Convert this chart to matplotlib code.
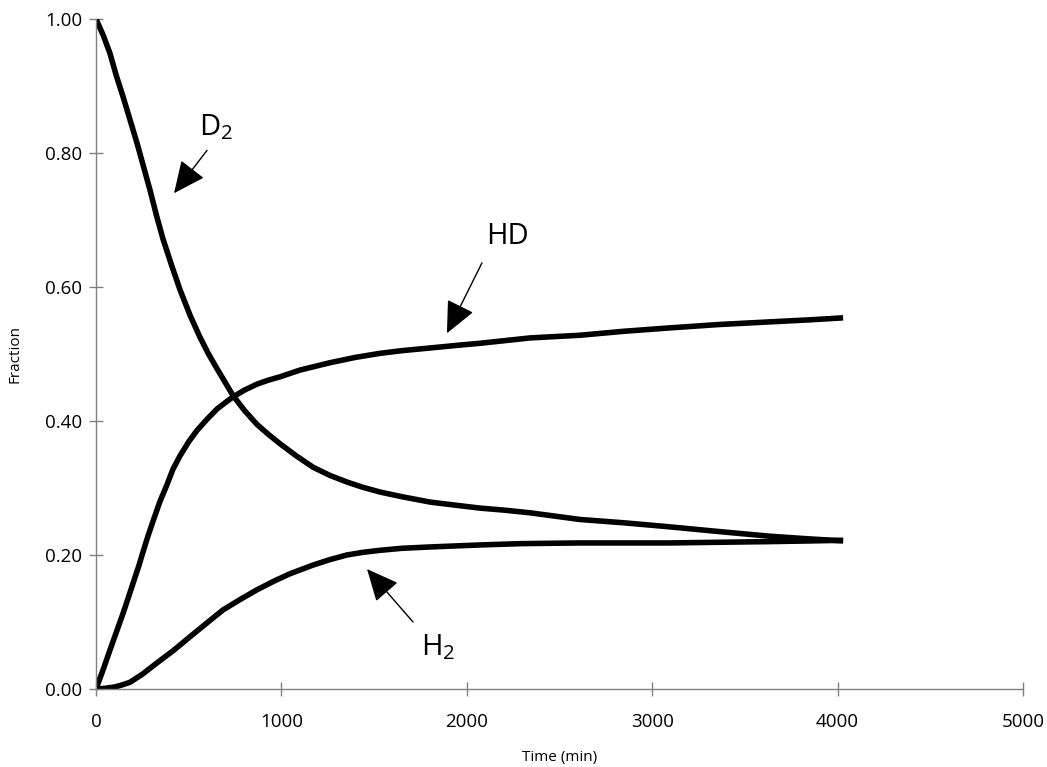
import matplotlib
matplotlib.use("Agg")
import matplotlib.pyplot as plt

# Data
d2_t = [0, 40, 75, 110, 146, 183, 221, 256, 291, 326, 361, 407, 453, 507, 561, 607, 653,
        739, 800, 868, 930, 993, 1080, 1171, 1260, 1353, 1440, 1532, 1650, 1802, 1950,
        2071, 2200, 2341, 2611, 2850, 3096, 3360, 3636, 3850, 4030]
d2_f = [1.00, 0.975, 0.949, 0.915, 0.884, 0.850, 0.815, 0.780, 0.745, 0.707, 0.672,
        0.633, 0.596, 0.558, 0.525, 0.500, 0.478, 0.438, 0.416, 0.395, 0.380, 0.366,
        0.348, 0.331, 0.319, 0.309, 0.301, 0.294, 0.287, 0.279, 0.274, 0.270, 0.267,
        0.263, 0.253, 0.248, 0.242, 0.235, 0.228, 0.224, 0.221]

hd_t = [0, 40, 75, 110, 146, 175, 200, 230, 254, 280, 307, 345, 383, 415, 453, 500, 545,
        600, 653, 700, 739, 800, 868, 930, 993, 1100, 1262, 1400, 1532, 1650, 1802, 1950,
        2071, 2341, 2611, 2850, 3096, 3360, 3636, 3850, 4030]
hd_f = [0.0, 0.030, 0.058, 0.085, 0.113, 0.137, 0.158, 0.183, 0.205, 0.228, 0.250, 0.280,
        0.305, 0.328, 0.348, 0.369, 0.386, 0.403, 0.418, 0.428, 0.436, 0.446, 0.455, 0.461,
        0.466, 0.476, 0.487, 0.495, 0.501, 0.505, 0.509, 0.513, 0.516, 0.524, 0.528, 0.534,
        0.539, 0.544, 0.548, 0.551, 0.554]

h2_t = [0, 50, 100, 140, 183, 250, 329, 420, 507, 600, 685, 780, 868, 960, 1046, 1171,
        1260, 1353, 1440, 1532, 1650, 1802, 2071, 2300, 2611, 3096, 3360, 3636, 3850, 4030]
h2_f = [0.0, 0.001, 0.003, 0.006, 0.010, 0.022, 0.039, 0.058, 0.078, 0.099, 0.118, 0.134,
        0.148, 0.161, 0.172, 0.185, 0.193, 0.200, 0.204, 0.207, 0.210, 0.212, 0.215, 0.217,
        0.218, 0.218, 0.219, 0.220, 0.221, 0.222]

x_ticks = [0, 1000, 2000, 3000, 4000, 5000]
y_ticks = [0.0, 0.2, 0.4, 0.6, 0.8, 1.0]

plt.rcParams['font.family'] = ['Open Sans', 'DejaVu Sans']
plt.rcParams['mathtext.fontset'] = 'custom'
plt.rcParams['mathtext.rm'] = 'Open Sans'

fig = plt.figure(figsize=(10.47, 7.67), dpi=100)
ax = fig.add_axes([0.0917, 0.1017, 0.8853, 0.8735])

for t, f in [(d2_t, d2_f), (hd_t, hd_f), (h2_t, h2_f)]:
    ax.plot(t, f, color='black', lw=4.0, solid_capstyle='butt', solid_joinstyle='round')

ax.set_xlim(0, 5000)
ax.set_ylim(0, 1.0)
ax.set_xticks(x_ticks)
ax.set_yticks(y_ticks)
ax.set_xticklabels([str(v) for v in x_ticks])
ax.set_yticklabels([f"{v:.2f}" for v in y_ticks])

for s in ['top', 'right']:
    ax.spines[s].set_visible(False)
for s in ['left', 'bottom']:
    ax.spines[s].set_color('#808080')
    ax.spines[s].set_linewidth(1.0)

ax.tick_params(direction='inout', length=10, width=1, color='#808080',
               labelsize=13.5, labelcolor='black')
ax.tick_params(axis='y', pad=5)
ax.tick_params(axis='x', pad=12)

ax.set_xlabel('Time (min)', fontsize=11, labelpad=14)
ax.set_ylabel('Fraction', fontsize=11, labelpad=16)

aprops = dict(arrowstyle='-|>,head_length=0.5,head_width=0.23', mutation_scale=40,
              lw=1.0, color='black', shrinkA=0, shrinkB=0)
ax.annotate('', xy=(421, 0.740), xytext=(599, 0.804), arrowprops=aprops)
ax.text(645, 0.838, r'D$_{2}$', fontsize=21, ha='center', va='center')

ax.annotate('', xy=(1893, 0.531), xytext=(2082, 0.636), arrowprops=aprops)
ax.text(2217, 0.675, 'HD', fontsize=21, ha='center', va='center')

ax.annotate('', xy=(1462, 0.179), xytext=(1710, 0.100), arrowprops=aprops)
ax.text(1845, 0.062, r'H$_{2}$', fontsize=21, ha='center', va='center')

fig.savefig('out.png', dpi=100)
